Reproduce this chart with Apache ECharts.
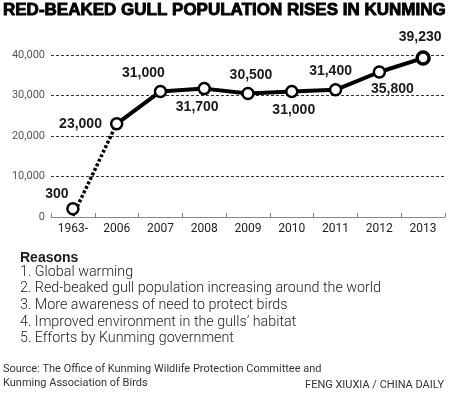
<!DOCTYPE html>
<html>
<head>
<meta charset="utf-8">
<title>Red-beaked gull population</title>
<script src="https://cdn.jsdelivr.net/npm/echarts@6/dist/echarts.min.js"></script>
<style>
    html, body { margin: 0; padding: 0; background: #fff; }
    #main { width: 450px; height: 398px; }
</style>
</head>
<body>
<div id="main"></div>
<script>
// data
const years = ['1963-', '2006', '2007', '2008', '2009', '2010', '2011', '2012', '2013']
const earlyCount = [300, 23000, null, null, null, null, null, null, null] // dotted part
const gullCount = [null, 23000, 31000, 31700, 30500, 31000, 31400, 35800, 39230]
const yTicks = [0, 10000, 20000, 30000, 40000]

const chartTitle = 'RED-BEAKED GULL POPULATION RISES IN KUNMING'
const reasonsHead = 'Reasons'
const reasons = [
    '1. Global warming',
    '2. Red-beaked gull population increasing around the world',
    '3. More awareness of need to protect birds',
    '4. Improved environment in the gulls\u2019 habitat',
    '5. Efforts by Kunming government'
]
const sourceLines = [
    'Source: The Office of Kunming Wildlife Protection Committee and',
    'Kunming Association of Birds'
]
const credit = 'FENG XIUXIA / CHINA DAILY'

// label placement per point (style only)
const labelPlace = [
    { position: 'top', offset: [-16, 4] },
    { position: 'left', distance: 8 },
    { position: 'top', offset: [-17, 0] },
    { position: 'bottom', offset: [-7, 0] },
    { position: 'top', offset: [3, 0] },
    { position: 'bottom', offset: [2, 0] },
    { position: 'top', offset: [-5, 0] },
    { position: 'bottom', offset: [13, -2] },
    { position: 'top', offset: [-3, -1] }
]

const fmt = v => Number(v).toLocaleString('en-US')

const labelFont = {
    show: true,
    color: '#1a1a1a',
    fontFamily: 'Liberation Sans',
    fontWeight: 'bold',
    fontSize: 14,
    formatter: p => fmt(p.value)
}

const myChart = echarts.init(document.getElementById('main'), null, { renderer: 'canvas' })

const solidData = gullCount.map((v, i) => {
    if (v === null) return '-'
    const item = { value: v, label: Object.assign({}, labelFont, labelPlace[i]) }
    if (i === years.length - 1) {
        item.symbolSize = 12
        item.itemStyle = { borderWidth: 3.5 }
    }
    return item
})

const dottedData = earlyCount.map((v, i) => {
    if (v === null) return '-'
    if (i === 0) {
        return {
            value: v,
            symbol: 'circle',
            symbolSize: 11,
            symbolOffset: [0, -7],
            label: Object.assign({}, labelFont, labelPlace[i])
        }
    }
    return { value: v, symbol: 'none' }
})

const textBlock = []
textBlock.push({
    type: 'text', left: 20, top: 251,
    style: { text: reasonsHead, font: 'bold 14px "Liberation Sans"', fill: '#1a1a1a' }
})
reasons.forEach((t, i) => {
    textBlock.push({
        type: 'text', left: 20, top: 265 + i * 16.7,
        style: { text: t, font: '300 14.3px Roboto', fill: '#1a1a1a' }
    })
})
sourceLines.forEach((t, i) => {
    textBlock.push({
        type: 'text', left: 3, top: 364 + i * 13.5,
        style: { text: t, font: '11px Roboto', fill: '#333' }
    })
})
textBlock.push({
    type: 'text', right: 6, top: 380,
    style: { text: credit, font: '11px Roboto', fill: '#333' }
})

myChart.setOption({
    animation: false,
    title: {
        text: chartTitle,
        left: 3,
        top: 2,
        padding: 0,
        textStyle: {
            fontFamily: 'Liberation Sans',
            fontWeight: 'bold',
            fontSize: 17,
            color: '#000',
            textBorderColor: '#000',
            textBorderWidth: 0.9
        }
    },
    grid: {
        left: 51,
        right: 5,
        top: 55,
        bottom: 181,
        containLabel: false
    },
    xAxis: {
        type: 'category',
        data: years,
        boundaryGap: true,
        axisLine: { show: true, lineStyle: { color: '#888', width: 1 } },
        axisTick: { show: true, inside: true, length: 4, alignWithLabel: false, lineStyle: { color: '#888' } },
        axisLabel: {
            color: '#222',
            fontFamily: 'Roboto',
            fontSize: 12,
            margin: 6
        }
    },
    yAxis: {
        type: 'value',
        min: yTicks[0],
        max: yTicks[yTicks.length - 1],
        interval: yTicks[1] - yTicks[0],
        axisLine: { show: false },
        axisTick: { show: false },
        axisLabel: {
            color: '#555',
            fontFamily: 'Roboto',
            fontSize: 11,
            margin: 6,
            formatter: v => fmt(v)
        },
        splitLine: {
            show: true,
            lineStyle: { color: '#333', width: 1, type: [3, 2] }
        }
    },
    series: [
        {
            name: 'early',
            type: 'line',
            clip: false,
            z: 2,
            symbol: 'circle',
            showSymbol: true,
            itemStyle: { color: '#fff', borderColor: '#000', borderWidth: 2.5 },
            lineStyle: { color: '#000', width: 3.5, type: [3, 2] },
            data: dottedData
        },
        {
            name: 'gulls',
            type: 'line',
            clip: false,
            z: 3,
            symbol: 'circle',
            symbolSize: 11,
            itemStyle: { color: '#fff', borderColor: '#000', borderWidth: 2.5 },
            lineStyle: { color: '#000', width: 4 },
            data: solidData
        }
    ],
    graphic: textBlock
})
</script>
</body>
</html>
